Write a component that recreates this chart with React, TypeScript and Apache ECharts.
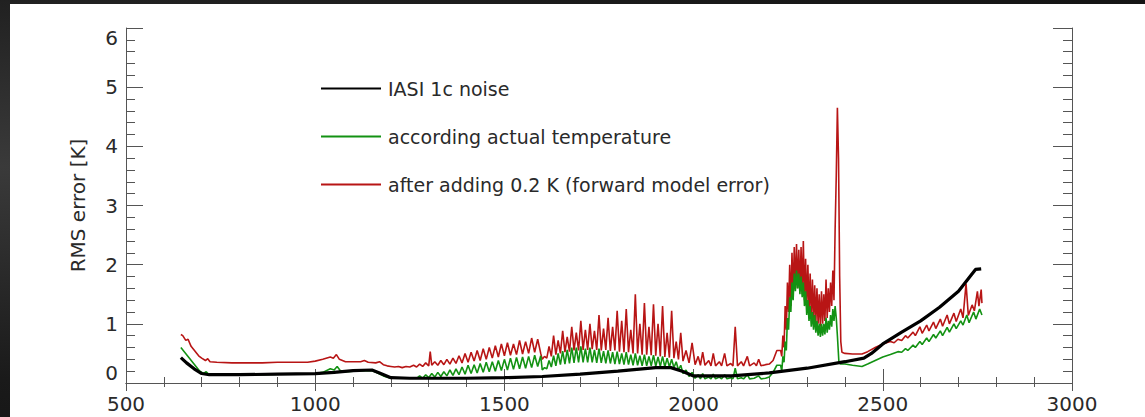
import React, { useEffect, useRef } from "react";
import * as echarts from "echarts";

const xTicks = [500, 1000, 1500, 2000, 2500, 3000];
const yTicks = [0, 1, 2, 3, 4, 5, 6];
const legendNames = [
  "IASI 1c noise",
  "according actual temperature",
  "after adding 0.2 K (forward model error)",
];

const blackData = [
  [645, 0.43], [660, 0.34], [680, 0.24], [700, 0.16], [720, 0.14], [800, 0.14], [900, 0.15],
  [1000, 0.16], [1050, 0.18], [1100, 0.21], [1150, 0.22], [1170, 0.17], [1200, 0.09], [1250, 0.08],
  [1400, 0.08], [1500, 0.09], [1600, 0.11], [1700, 0.15], [1800, 0.2], [1850, 0.23], [1900, 0.26],
  [1940, 0.26], [1970, 0.2], [2000, 0.12], [2100, 0.12], [2200, 0.17], [2300, 0.25], [2400, 0.36],
  [2450, 0.42], [2470, 0.5], [2500, 0.66], [2550, 0.86], [2600, 1.05], [2650, 1.28], [2700, 1.55],
  [2745, 1.92], [2760, 1.93],
];

const greenLow = [
  [645, 0.6], [655, 0.52], [665, 0.44], [675, 0.36], [685, 0.28], [695, 0.2], [705, 0.16], [712, 0.19],
  [718, 0.15], [730, 0.15], [760, 0.14], [800, 0.14], [850, 0.14], [900, 0.15], [950, 0.15], [1000, 0.16],
  [1020, 0.18], [1040, 0.24], [1050, 0.22], [1058, 0.28], [1066, 0.21], [1080, 0.19], [1100, 0.2],
  [1130, 0.21], [1150, 0.21], [1165, 0.17], [1180, 0.12], [1195, 0.09],
];

const greenMid = [
  [1200, 0.09], [1220, 0.08], [1240, 0.08], [1260, 0.09], [1268, 0.08], [1276, 0.12], [1284, 0.08],
  [1292, 0.14], [1300, 0.09], [1308, 0.16], [1316, 0.1], [1324, 0.18], [1332, 0.11], [1340, 0.19],
  [1348, 0.12], [1356, 0.22], [1364, 0.13], [1372, 0.24], [1380, 0.14], [1388, 0.27], [1396, 0.15],
  [1404, 0.3], [1412, 0.16], [1420, 0.31], [1428, 0.17], [1436, 0.33], [1444, 0.18], [1452, 0.35],
  [1460, 0.19], [1468, 0.36], [1476, 0.2], [1484, 0.38], [1492, 0.21], [1500, 0.4], [1508, 0.22],
  [1516, 0.42], [1524, 0.23], [1532, 0.43], [1540, 0.24], [1548, 0.44], [1556, 0.25], [1564, 0.45],
  [1572, 0.26], [1580, 0.47], [1588, 0.28], [1596, 0.46], [1600, 0.22], [1606, 0.26], [1612, 0.24],
  [1618, 0.38], [1624, 0.27], [1630, 0.46], [1636, 0.29], [1642, 0.5], [1648, 0.31], [1654, 0.54],
  [1660, 0.32], [1666, 0.56], [1672, 0.33], [1678, 0.6], [1684, 0.34], [1690, 0.6], [1696, 0.35],
  [1702, 0.62], [1708, 0.35], [1714, 0.58], [1720, 0.35], [1726, 0.6], [1732, 0.35], [1738, 0.56],
  [1744, 0.34], [1750, 0.58], [1756, 0.34], [1762, 0.54], [1768, 0.33], [1774, 0.55], [1780, 0.33],
  [1786, 0.52], [1792, 0.32], [1798, 0.53], [1804, 0.32], [1810, 0.5], [1816, 0.31], [1822, 0.52],
  [1828, 0.31], [1834, 0.48], [1840, 0.3], [1846, 0.5], [1852, 0.3], [1858, 0.46], [1864, 0.29],
  [1870, 0.48], [1876, 0.29], [1882, 0.45], [1888, 0.29], [1894, 0.47], [1900, 0.28], [1906, 0.44],
  [1912, 0.28], [1918, 0.45], [1924, 0.27], [1930, 0.42], [1936, 0.27], [1942, 0.4], [1948, 0.26],
  [1954, 0.36], [1960, 0.22], [1966, 0.3], [1972, 0.16], [1980, 0.22], [1988, 0.11], [1996, 0.18],
  [2004, 0.08], [2012, 0.14], [2018, 0.07], [2024, 0.16], [2030, 0.07], [2040, 0.1], [2046, 0.07],
  [2052, 0.15], [2058, 0.07], [2068, 0.1], [2074, 0.07], [2082, 0.14], [2088, 0.07], [2098, 0.09],
  [2104, 0.07], [2110, 0.25], [2116, 0.07], [2126, 0.09], [2132, 0.07], [2142, 0.14], [2148, 0.07],
  [2160, 0.08], [2172, 0.12], [2178, 0.07], [2190, 0.08], [2200, 0.1], [2210, 0.18], [2220, 0.3],
];

const greenHigh = [
  [2230, 0.3], [2233, 0.2], [2236, 0.45], [2239, 0.35], [2242, 0.7], [2245, 0.55], [2248, 1.1],
  [2251, 0.9], [2254, 1.45], [2257, 1.2], [2260, 1.7], [2263, 1.4], [2266, 1.85], [2269, 1.55],
  [2272, 1.9], [2275, 1.6], [2278, 1.85], [2281, 1.5], [2284, 1.8], [2287, 1.45], [2290, 1.7],
  [2293, 1.3], [2296, 1.55], [2299, 1.15], [2302, 1.4], [2305, 1.05], [2308, 1.3], [2311, 0.95],
  [2314, 1.2], [2317, 0.9], [2320, 1.15], [2323, 0.85], [2326, 1.05], [2329, 0.8], [2332, 1.0],
  [2335, 0.78], [2338, 1.0], [2341, 0.8], [2344, 1.0], [2347, 0.82], [2350, 1.1], [2353, 0.85],
  [2356, 1.05], [2359, 0.9], [2362, 1.15], [2365, 0.95], [2368, 1.25], [2371, 1.05], [2374, 1.3],
  [2377, 1.1], [2380, 0.8], [2384, 0.35], [2388, 0.32], [2400, 0.32], [2420, 0.3], [2445, 0.28],
  [2460, 0.32], [2480, 0.38], [2500, 0.44], [2520, 0.48], [2540, 0.53], [2550, 0.52], [2560, 0.58],
  [2566, 0.55], [2580, 0.64], [2586, 0.6], [2598, 0.7], [2604, 0.65], [2616, 0.76], [2622, 0.7],
  [2634, 0.82], [2640, 0.76], [2652, 0.88], [2658, 0.8], [2670, 0.94], [2676, 0.86], [2688, 1.0],
  [2694, 0.92], [2706, 1.05], [2712, 0.98], [2722, 1.15], [2728, 1.02], [2740, 1.2], [2746, 1.08],
  [2756, 1.25], [2762, 1.15],
];

const redLow = [
  [645, 0.82], [650, 0.8], [658, 0.72], [664, 0.74], [672, 0.62], [682, 0.54], [692, 0.46], [700, 0.42],
  [710, 0.38], [716, 0.41], [722, 0.36], [740, 0.35], [780, 0.34], [820, 0.34], [860, 0.34], [900, 0.35],
  [940, 0.35], [980, 0.35], [1000, 0.37], [1020, 0.4], [1040, 0.44], [1048, 0.42], [1056, 0.48],
  [1064, 0.4], [1080, 0.36], [1100, 0.36], [1120, 0.36], [1130, 0.38], [1140, 0.35], [1160, 0.34],
  [1170, 0.36], [1180, 0.31], [1190, 0.29],
];

const redMid = [
  [1200, 0.28], [1210, 0.27], [1220, 0.28], [1230, 0.26], [1240, 0.28], [1250, 0.27], [1260, 0.3],
  [1268, 0.27], [1276, 0.32], [1284, 0.28], [1292, 0.34], [1300, 0.29], [1304, 0.53], [1308, 0.3],
  [1316, 0.36], [1324, 0.3], [1332, 0.38], [1340, 0.31], [1348, 0.4], [1356, 0.32], [1364, 0.42],
  [1372, 0.33], [1380, 0.46], [1388, 0.34], [1396, 0.5], [1404, 0.35], [1412, 0.52], [1420, 0.37],
  [1428, 0.55], [1436, 0.38], [1444, 0.58], [1452, 0.4], [1460, 0.6], [1468, 0.42], [1476, 0.63],
  [1484, 0.44], [1492, 0.66], [1500, 0.46], [1508, 0.68], [1516, 0.47], [1524, 0.66], [1532, 0.48],
  [1540, 0.72], [1548, 0.49], [1556, 0.7], [1564, 0.5], [1572, 0.76], [1580, 0.52], [1588, 0.74],
  [1596, 0.5], [1600, 0.4], [1606, 0.45], [1612, 0.42], [1618, 0.62], [1624, 0.45], [1630, 0.8],
  [1636, 0.48], [1642, 0.72], [1648, 0.5], [1654, 0.88], [1660, 0.52], [1666, 0.78], [1672, 0.53],
  [1678, 0.95], [1684, 0.55], [1690, 0.85], [1696, 0.55], [1702, 1.05], [1708, 0.56], [1714, 0.9],
  [1720, 0.56], [1726, 1.0], [1732, 0.57], [1738, 0.88], [1744, 0.56], [1750, 1.15], [1756, 0.55],
  [1762, 0.92], [1768, 0.56], [1774, 1.1], [1780, 0.54], [1786, 0.95], [1792, 0.55], [1798, 1.22],
  [1804, 0.53], [1810, 1.05], [1816, 0.52], [1822, 1.25], [1828, 0.52], [1834, 0.9], [1840, 0.5],
  [1846, 1.5], [1852, 0.5], [1858, 1.0], [1864, 0.48], [1870, 1.35], [1876, 0.48], [1882, 0.95],
  [1888, 0.47], [1894, 1.33], [1900, 0.46], [1906, 1.0], [1912, 0.45], [1918, 1.3], [1924, 0.44],
  [1930, 0.85], [1936, 0.43], [1942, 1.22], [1948, 0.42], [1954, 0.7], [1960, 0.4], [1966, 0.85],
  [1972, 0.37], [1980, 0.55], [1988, 0.34], [1996, 0.68], [2004, 0.31], [2012, 0.45], [2018, 0.3],
  [2024, 0.52], [2030, 0.3], [2040, 0.38], [2046, 0.29], [2052, 0.5], [2058, 0.29], [2068, 0.36],
  [2074, 0.29], [2082, 0.5], [2088, 0.29], [2098, 0.33], [2104, 0.29], [2110, 0.95], [2116, 0.29],
  [2126, 0.36], [2132, 0.29], [2142, 0.45], [2148, 0.29], [2160, 0.34], [2166, 0.29], [2172, 0.4],
  [2178, 0.29], [2190, 0.31], [2200, 0.32], [2210, 0.38], [2220, 0.55],
];

const redHigh = [
  [2230, 0.55], [2233, 0.45], [2236, 0.8], [2239, 0.6], [2242, 1.3], [2245, 0.9], [2248, 1.7],
  [2251, 1.2], [2254, 2.0], [2257, 1.3], [2260, 2.2], [2263, 1.5], [2266, 2.3], [2269, 1.6],
  [2272, 2.35], [2275, 1.6], [2278, 2.25], [2281, 1.55], [2284, 2.3], [2287, 1.5], [2290, 2.4],
  [2293, 1.4], [2296, 2.1], [2299, 1.3], [2302, 2.0], [2305, 1.2], [2308, 1.85], [2311, 1.1],
  [2314, 1.75], [2317, 1.05], [2320, 1.65], [2323, 1.0], [2326, 1.6], [2329, 1.0], [2332, 1.5],
  [2335, 0.95], [2338, 1.55], [2341, 1.0], [2344, 1.5], [2347, 1.05], [2350, 1.75], [2353, 1.1],
  [2356, 1.6], [2359, 1.2], [2362, 1.7], [2365, 1.3], [2368, 1.9], [2371, 1.4], [2374, 2.6],
  [2377, 3.5], [2380, 4.65], [2383, 3.8], [2386, 1.8], [2389, 0.7], [2392, 0.52], [2400, 0.5],
  [2420, 0.49], [2445, 0.49], [2460, 0.53], [2480, 0.6], [2500, 0.66], [2520, 0.7], [2530, 0.68],
  [2540, 0.74], [2550, 0.72], [2560, 0.8], [2566, 0.76], [2580, 0.86], [2586, 0.8], [2598, 0.95],
  [2604, 0.84], [2616, 0.98], [2622, 0.88], [2634, 1.03], [2640, 0.92], [2652, 1.08], [2658, 0.96],
  [2670, 1.15], [2676, 1.0], [2688, 1.18], [2694, 1.04], [2706, 1.25], [2712, 1.1], [2720, 1.68],
  [2726, 1.14], [2736, 1.32], [2742, 1.22], [2750, 1.55], [2754, 1.3], [2760, 1.58], [2762, 1.35],
];

const FONT = "DejaVu Sans";
const AXIS_COLOR = "#555";
const TEXT_COLOR = "#2a2a2a";

export default function App() {
  const ref = useRef<HTMLDivElement>(null);

  useEffect(() => {
    document.body.style.margin = "0";
    if (!ref.current) return;
    const chart = echarts.init(ref.current, null, { renderer: "svg" });

    const xBase = {
      type: "value",
      min: xTicks[0],
      max: xTicks[xTicks.length - 1],
      interval: xTicks[1] - xTicks[0],
      splitLine: { show: false },
      axisLine: { show: true, lineStyle: { color: AXIS_COLOR, width: 1 } },
    };
    const yBase = {
      type: "value",
      min: yTicks[0],
      max: yTicks[yTicks.length - 1],
      interval: yTicks[1] - yTicks[0],
      splitLine: { show: false },
      axisLine: { show: true, lineStyle: { color: AXIS_COLOR, width: 1 } },
    };

    const lineSeries = (name: string, data: number[][], color: string, width: number, z: number) => ({
      type: "line",
      name,
      data,
      showSymbol: false,
      symbol: "none",
      z,
      lineStyle: { color, width },
      itemStyle: { color },
    });

    const red = "#b81515";
    const green = "#139213";

    chart.setOption({
      animation: false,
      backgroundColor: "transparent",
      grid: { left: 126, right: 73, top: 28, bottom: 34 },
      legend: {
        left: 315,
        top: 74,
        orient: "vertical",
        itemWidth: 60,
        itemHeight: 14,
        itemGap: 29,
        data: legendNames,
        itemStyle: { opacity: 0 },
        textStyle: {
          fontFamily: FONT,
          fontSize: 19,
          color: TEXT_COLOR,
          lineHeight: 14,
          padding: [0, 0, 0, 2],
        },
      },
      xAxis: [
        {
          ...xBase,
          position: "bottom",
          axisTick: { show: true, inside: true, length: 14, lineStyle: { color: AXIS_COLOR } },
          minorTick: { show: true, splitNumber: 5, length: 6, lineStyle: { color: AXIS_COLOR } },
          axisLabel: {
            fontFamily: FONT,
            fontSize: 20,
            color: TEXT_COLOR,
            margin: 11,
            formatter: (v: number) => String(v),
          },
        },
        {
          ...xBase,
          position: "top",
          axisTick: { show: true, inside: true, length: 8, lineStyle: { color: AXIS_COLOR } },
          minorTick: { show: true, splitNumber: 5, length: 4, lineStyle: { color: AXIS_COLOR } },
          axisLabel: { show: false },
        },
      ],
      yAxis: [
        {
          ...yBase,
          position: "left",
          name: "RMS error [K]",
          nameLocation: "middle",
          nameGap: 38,
          nameTextStyle: { fontFamily: FONT, fontSize: 20, color: TEXT_COLOR },
          axisTick: { show: true, inside: true, length: 17, lineStyle: { color: AXIS_COLOR } },
          minorTick: { show: true, splitNumber: 5, length: 9, lineStyle: { color: AXIS_COLOR } },
          axisLabel: {
            fontFamily: FONT,
            fontSize: 20,
            color: TEXT_COLOR,
            margin: 8,
            formatter: (v: number) => String(v),
            verticalAlignMinLabel: "bottom",
            verticalAlignMaxLabel: "top",
          },
        },
        {
          ...yBase,
          position: "right",
          axisTick: { show: true, inside: true, length: 19, lineStyle: { color: AXIS_COLOR } },
          minorTick: { show: true, splitNumber: 5, length: 9, lineStyle: { color: AXIS_COLOR } },
          axisLabel: { show: false },
        },
      ],
      series: [
        lineSeries(legendNames[2], [...redLow, ...redMid, ...redHigh], red, 1.6, 2),
        lineSeries(legendNames[1], [...greenLow, ...greenMid, ...greenHigh], green, 1.6, 3),
        lineSeries(legendNames[0], blackData, "#000", 3.2, 4),
      ],
    });

    return () => chart.dispose();
  }, []);

  return (
    <div
      style={{
        position: "relative",
        width: 1145,
        height: 417,
        background: "radial-gradient(ellipse at 0% 40%, #3a3a3a 0%, #1a1a1a 60%, #111 100%)",
        overflow: "hidden",
      }}
    >
      <div style={{ position: "absolute", left: 10, top: 4, right: 0, bottom: 0, background: "#fff" }} />
      <div ref={ref} style={{ position: "absolute", left: 0, top: 0, width: 1145, height: 417 }} />
    </div>
  );
}
